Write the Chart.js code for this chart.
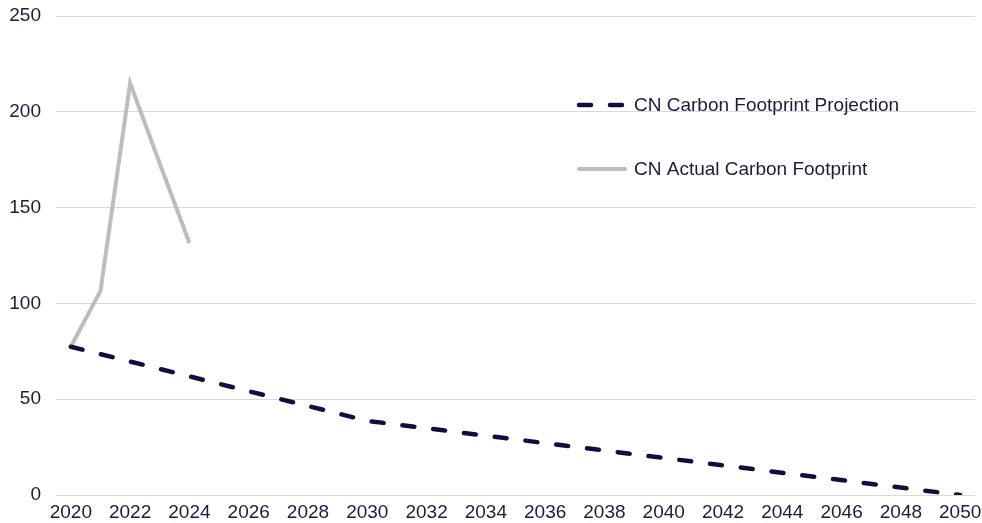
<!DOCTYPE html>
<html>
<head>
<meta charset="utf-8">
<script src="https://cdn.jsdelivr.net/npm/chart.js@4/dist/chart.umd.min.js"></script>
<style>
  html, body { margin: 0; padding: 0; background: #fff; }
  #wrap { width: 982px; height: 523px; position: relative; }
</style>
</head>
<body>
<div id="wrap"><canvas id="footprintChart"></canvas></div>
<script>
// anos 2020..2050
const years = [];
for (let y = 2020; y <= 2050; y++) years.push(String(y));

// projecao: pontos conhecidos (2020, 2030, 2050), o resto fica vazio
const projection = [
  77.4, null, null, null, null, null, null, null, null, null,
  38.7, null, null, null, null, null, null, null, null, null,
  null, null, null, null, null, null, null, null, null, null,
  0
];

// pegada real, so ate 2024
const actual = [77.4, 106.5, 215, 173, 131.5];

const yTicks = [0, 50, 100, 150, 200, 250];

const navy = "#0f0f3e";
const gray = "#bdbdbd";
const textColor = "#1b1b40";
const fontFamily = "'Liberation Sans', Arial, sans-serif";
const fontSize = 19;

// legenda desenhada dentro da area do grafico
const insideLegend = {
  id: "insideLegend",
  afterDraw(chart, args, opts) {
    const ctx = chart.ctx;
    ctx.save();
    ctx.font = fontSize + "px " + fontFamily;
    ctx.fillStyle = textColor;
    ctx.textBaseline = "middle";
    ctx.lineCap = "round";
    chart.data.datasets.forEach((ds, i) => {
      const y = opts.y + i * opts.gap;
      ctx.strokeStyle = ds.borderColor;
      ctx.lineWidth = ds.borderWidth;
      ctx.setLineDash(ds.borderDash || []);
      ctx.beginPath();
      ctx.moveTo(opts.x + 2, y);
      ctx.lineTo(opts.x + 48, y);
      ctx.stroke();
      ctx.setLineDash([]);
      ctx.fillText(ds.label, opts.x + 57, y + 1);
    });
    ctx.restore();
  }
};

new Chart(document.getElementById("footprintChart"), {
  type: "line",
  data: {
    labels: years,
    datasets: [
      {
        label: "CN Carbon Footprint Projection",
        data: projection,
        borderColor: navy,
        borderWidth: 4.5,
        borderDash: [12, 19],
        borderCapStyle: "round",
        spanGaps: true,
        pointRadius: 0,
        tension: 0
      },
      {
        label: "CN Actual Carbon Footprint",
        data: actual,
        borderColor: gray,
        borderWidth: 4,
        pointRadius: 0,
        tension: 0
      }
    ]
  },
  options: {
    responsive: true,
    maintainAspectRatio: false,
    animation: false,
    layout: { padding: { top: 16, right: 7, left: 0, bottom: 0 } },
    plugins: {
      legend: { display: false },
      tooltip: { enabled: false },
      insideLegend: { x: 577, y: 105, gap: 64 }
    },
    scales: {
      x: {
        offset: true,
        grid: { display: false, drawTicks: false },
        border: { display: false },
        ticks: {
          autoSkip: false,
          maxRotation: 0,
          padding: 6,
          color: textColor,
          font: { family: fontFamily, size: fontSize },
          callback: function (val, idx) {
            return idx % 2 === 0 ? this.getLabelForValue(val) : "";
          }
        },
        afterFit: (scale) => {
          scale.height = 28;
          scale.paddingLeft = 0;
          scale.paddingRight = 0;
        }
      },
      y: {
        min: 0,
        max: 250,
        afterBuildTicks: (scale) => { scale.ticks = yTicks.map(v => ({ value: v })); },
        grid: { color: "#d9d9d9", lineWidth: 1, drawTicks: false },
        border: { display: false },
        ticks: {
          padding: 15,
          color: textColor,
          font: { family: fontFamily, size: fontSize }
        },
        afterFit: (scale) => {
          scale.width = 56;
          scale.paddingTop = 0;
          scale.paddingBottom = 0;
        }
      }
    }
  },
  plugins: [insideLegend]
});
</script>
</body>
</html>
